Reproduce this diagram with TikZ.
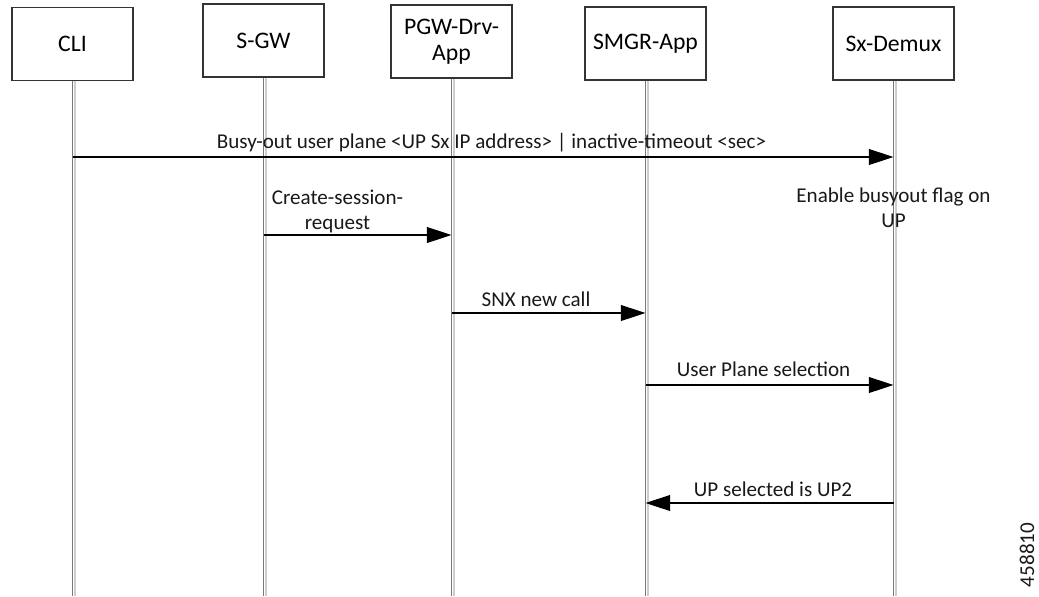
\documentclass[tikz,border=0pt]{standalone}
\usepackage{fontspec}
\setmainfont{Carlito}
\usetikzlibrary{arrows.meta, positioning}
\definecolor{lifedark}{RGB}{120,120,120}
\definecolor{lifelight}{RGB}{205,205,205}
\tikzset{
  entity/.style={draw=black!80, line width=0.8pt, fill=white, minimum width=2.42cm, minimum height=1.46cm, align=center, font=\fontsize{13.5}{15}\selectfont},
  msg/.style={line width=0.7pt, -{Triangle[length=14pt, width=9pt]}},
  msgtext/.style={font=\fontsize{12}{14}\selectfont, align=center, text=black!90}
}

\begin{document}
\begin{tikzpicture}[x=0.02cm, y=-0.02cm]
  \useasboundingbox (0,0) rectangle (1039,596);

  % participants
  \node[entity] (cli)  at (72.5,44)   {CLI};
  \node[entity] (sgw)  at (263.5,40.5) {S-GW};
  \node[entity] (pgw)  at (451.5,41.5) {PGW-Drv-\\App};
  \node[entity] (smgr) at (645.5,43.5) {SMGR-App};
  \node[entity] (sxd)  at (893.5,43.5) {Sx-Demux};

  % lifelines (double, grey)
  \coordinate (bottom) at (0,596);
  \foreach \p in {cli, sgw, pgw, smgr, sxd} {
    \draw[lifelight, line width=1pt] ([xshift=0.05cm]\p.south) -- ([xshift=0.05cm]\p.south |- bottom);
    \draw[lifedark, line width=0.7pt] (\p.south) -- (\p.south |- bottom);
  }

  % message rows
  \coordinate (r1) at (0,157);
  \coordinate (r2) at (0,235);
  \coordinate (r3) at (0,313);
  \coordinate (r4) at (0,385);
  \coordinate (r5) at (0,503);

  % messages
  \draw[msg] (cli |- r1) -- (sxd |- r1)
    node[msgtext, midway, above=0pt, xshift=0.17cm, yshift=-0.03cm] (m1) {Busy-out user plane <UP Sx IP address> | inactive-timeout <sec>};
  \draw[msg] (sgw |- r2) -- (pgw |- r2)
    node[msgtext, midway, above=0pt, xshift=-0.4cm, yshift=-0.08cm] (m2) {Create-session-\\request};
  \node[msgtext] (busy) at (sxd |- 0,208) {Enable busyout flag on\\UP};
  \draw[msg] (pgw |- r3) -- (smgr |- r3)
    node[msgtext, midway, above=0pt, xshift=-0.25cm] (m3) {SNX new call};
  \draw[msg] (smgr |- r4) -- (sxd |- r4)
    node[msgtext, midway, above=0pt, xshift=-0.12cm, yshift=0.03cm] (m4) {User Plane selection};
  \draw[msg] (sxd |- r5) -- (smgr |- r5)
    node[msgtext, midway, above=0pt, xshift=0.07cm] (m5) {UP selected is UP2};

  % figure number
  \node[msgtext, rotate=90] (fignum) at (1027,555) {458810};
\end{tikzpicture}
\end{document}
